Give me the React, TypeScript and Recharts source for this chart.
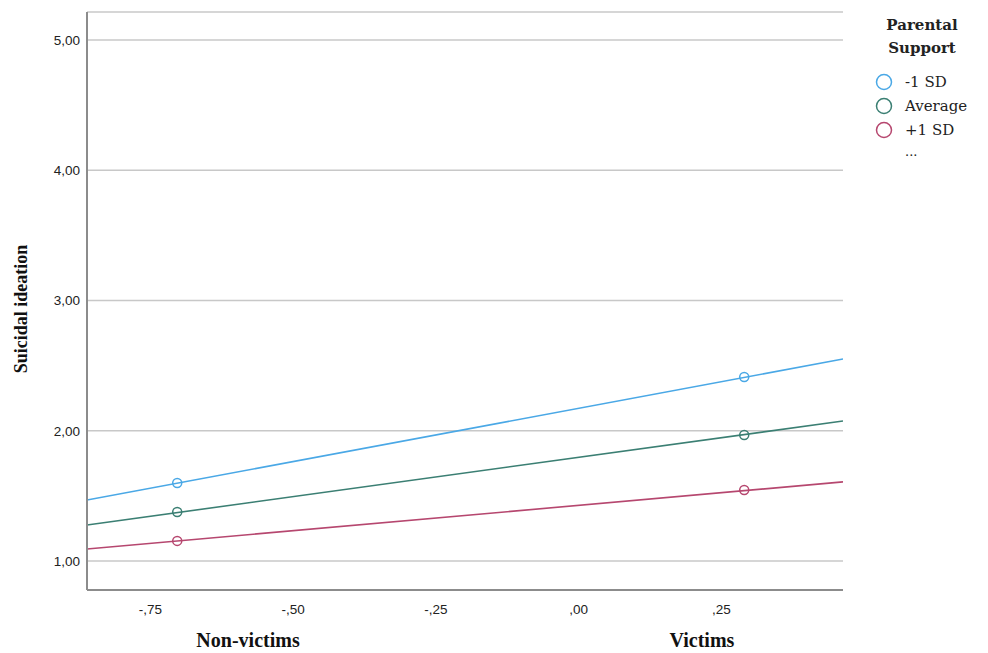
import React from 'react';
import { ComposedChart, Line, Scatter, XAxis, YAxis, CartesianGrid } from 'recharts';

// x range of the plot (centered dummy coding)
const xDomain = [-0.861, 0.463];
const xTicks = [-0.75, -0.5, -0.25, 0, 0.25];
const yTicks = [1, 2, 3, 4, 5];

const groupX = [-0.703, 0.29];
const groupNames = ['Non-victims', 'Victims'];
const groupLabelX = [-0.579, 0.216];

// group means per moderator level
const lowSupport = [1.599, 2.413];
const avgSupport = [1.376, 1.967];
const highSupport = [1.154, 1.545];

// fitted lines at the left / right edge of the plot
const lowFit = [1.468, 2.551];
const avgFit = [1.276, 2.075];
const highFit = [1.092, 1.607];

const seriesNames = ['-1 SD', 'Average', '+1 SD'];
const colors = ['#4aa8e6', '#3b7f73', '#b6476f'];

const toPoints = (xs: number[], ys: number[]) => xs.map((x, i) => ({ x, y: ys[i] }));

const series = [
  { name: seriesNames[0], color: colors[0], pts: toPoints(groupX, lowSupport), fit: toPoints(xDomain, lowFit) },
  { name: seriesNames[1], color: colors[1], pts: toPoints(groupX, avgSupport), fit: toPoints(xDomain, avgFit) },
  { name: seriesNames[2], color: colors[2], pts: toPoints(groupX, highSupport), fit: toPoints(xDomain, highFit) },
];

const fmt = (v: number) => {
  const a = Math.abs(v).toFixed(2).replace('.', ',');
  return (v < 0 ? '-' : '') + (Math.abs(v) < 1 ? a.replace(/^0/, '') : a);
};

const serif = '"DejaVu Serif", "Liberation Serif", serif';
const tickFont = { fill: '#222', fontSize: 13.5, fontFamily: '"Liberation Sans", Arial, sans-serif' };

const LegendBox = () => (
  <div style={{ position: 'absolute', left: 840, top: 14, fontFamily: serif, color: '#222', width: 140 }}>
    <div style={{ fontWeight: 'bold', fontSize: 15, lineHeight: '23px', textAlign: 'center', width: 96, marginLeft: 34 }}>
      Parental Support
    </div>
    <div style={{ marginTop: 10 }}>
      {series.map(s => (
        <div key={s.name} style={{ display: 'flex', alignItems: 'center', height: 24, fontSize: 15 }}>
          <svg width={18} height={18} style={{ marginLeft: 35, marginRight: 12 }}>
            <circle cx={9} cy={9} r={7.5} fill="none" stroke={s.color} strokeWidth={1.5} />
          </svg>
          <span>{s.name}</span>
        </div>
      ))}
      <div style={{ fontSize: 13, marginLeft: 65, lineHeight: '20px' }}>...</div>
    </div>
  </div>
);

const Ring = (props: any) => {
  const { cx, cy, fill } = props;
  return <circle cx={cx} cy={cy} r={4.5} fill="none" stroke={fill} strokeWidth={1.5} />;
};

// group names under the numeric ticks, placed on the axis's own span
const GroupLabels = (props: any) => {
  const vb = props.viewBox || {};
  const toPx = (v: number) => vb.x + ((v - xDomain[0]) / (xDomain[1] - xDomain[0])) * vb.width;
  return (
    <g>
      {groupLabelX.map((v, i) => (
        <text
          key={groupNames[i]}
          x={toPx(v)}
          y={vb.y + 57}
          textAnchor="middle"
          fontFamily='"Liberation Serif", serif'
          fontWeight="bold"
          fontSize={20}
          fill="#111"
        >
          {groupNames[i]}
        </text>
      ))}
    </g>
  );
};

const App: React.FC = () => {
  return (
    <div style={{ position: 'absolute', left: 0, top: 0, width: 988, height: 653, background: '#fff' }}>
      <ComposedChart width={988} height={653} margin={{ top: 12, right: 145, left: 0, bottom: 0 }}>
        <CartesianGrid vertical={false} stroke="#c8c8c8" strokeWidth={1.5} />
        <XAxis
          dataKey="x"
          type="number"
          domain={xDomain}
          ticks={xTicks}
          allowDataOverflow
          tickFormatter={fmt}
          height={63}
          tickSize={0}
          tickMargin={14}
          stroke="#8c8c8c"
          strokeWidth={2}
          tick={tickFont}
          label={{ content: (p: any) => <GroupLabels {...p} /> }}
        />
        <YAxis
          type="number"
          domain={[0.777, 5.215]}
          ticks={yTicks}
          allowDataOverflow
          tickFormatter={fmt}
          width={87}
          tickSize={0}
          tickMargin={7}
          stroke="#8c8c8c"
          strokeWidth={2}
          tick={tickFont}
          label={{
            content: () => (
              <text
                x={27}
                y={309}
                transform="rotate(-90, 27, 309)"
                textAnchor="middle"
                fontFamily='"Liberation Serif", serif'
                fontWeight="bold"
                fontSize={18}
                fill="#111"
              >
                Suicidal ideation
              </text>
            ),
          }}
        />
        {series.map(s => (
          <Line
            key={'fit' + s.name}
            data={s.fit}
            dataKey="y"
            type="linear"
            stroke={s.color}
            strokeWidth={1.6}
            dot={false}
            activeDot={false}
            legendType="none"
            isAnimationActive={false}
          />
        ))}
        {series.map(s => (
          <Scatter
            key={'pts' + s.name}
            name={s.name}
            data={s.pts}
            dataKey="y"
            fill={s.color}
            shape={<Ring />}
            isAnimationActive={false}
          />
        ))}
      </ComposedChart>
      <LegendBox />
    </div>
  );
};

export default App;
